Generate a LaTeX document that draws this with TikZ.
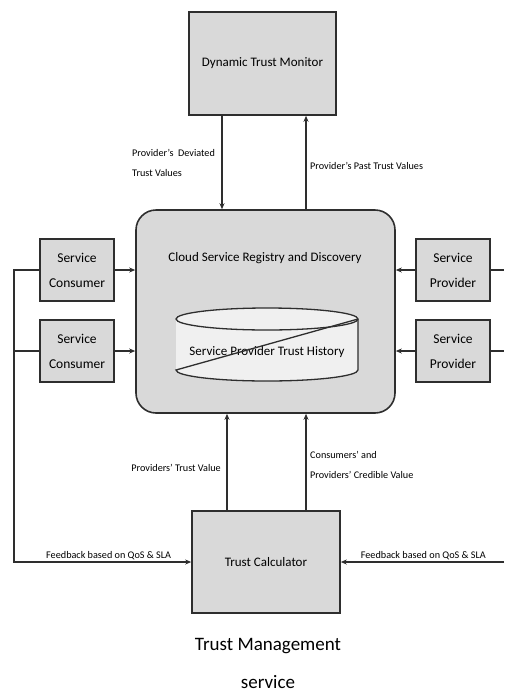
\documentclass[tikz,border=0pt]{standalone}
\usepackage{fontspec}
\setmainfont{Carlito}
\usetikzlibrary{arrows.meta}
\definecolor{boxgray}{HTML}{D9D9D9}
\definecolor{linegray}{HTML}{2E2E2E}
\definecolor{cylfill}{HTML}{F0F0F0}

\begin{document}
\begin{tikzpicture}[x=1pt,y=-1pt,
    box/.style={draw=linegray,line width=1.6pt,fill=boxgray,align=center,inner sep=0pt},
    small/.style={font=\fontsize{10.2}{20}\selectfont,align=left,inner sep=1pt},
    arr/.style={line width=1.3pt,draw=linegray,-{Stealth[length=6pt,width=5pt]}},
    ln/.style={line width=1.3pt,draw=linegray}]
    \useasboundingbox (0,0) rectangle (504,694);
    \node[box,minimum width=147pt,minimum height=103pt,font=\fontsize{13}{15}\selectfont] (monitor) at (262.5,63.5) {Dynamic Trust Monitor};
    \node[box,rounded corners=20pt,minimum width=259pt,minimum height=203pt] (cloud) at (265.5,311.5) {};
    \node[font=\fontsize{13}{15}\selectfont] (registry) at (265,258) {Cloud Service Registry and Discovery};
    \node[box,minimum width=148pt,minimum height=102pt,font=\fontsize{13}{15}\selectfont] (calc) at (266,562) {Trust Calculator};
    % trust history store
    \fill[cylfill] (176,319) -- (176,370) arc[start angle=180,end angle=360,x radius=91pt,y radius=11pt] -- (358,319) -- cycle;
    \draw[ln,fill=cylfill] (267,319) ellipse (91pt and 11pt);
    \node[font=\fontsize{13}{15}\selectfont] (history) at (267,352) {Service Provider Trust History};
    \draw[ln] (358,319) -- (358,370) arc[start angle=360,end angle=180,x radius=91pt,y radius=11pt] -- (358,319);
    \foreach \i/\y in {1/270,2/351}{
        \node[box,minimum width=74pt,minimum height=62pt,font=\fontsize{13.5}{25}\selectfont] (cons\i) at (77,\y) {Service\\Consumer};
        \node[box,minimum width=74pt,minimum height=62pt,font=\fontsize{13.5}{25}\selectfont] (prov\i) at (453,\y) {Service\\Provider};
        \draw[arr] (cons\i.east) -- (cons\i.east -| cloud.west);
        \draw[arr] (prov\i.west) -- (prov\i.west -| cloud.east);
    }
    \coordinate (xa) at (222,0);
    \coordinate (xb) at (306,0);
    \coordinate (xc) at (227,0);
    \coordinate (busl) at (14,0);
    \coordinate (edge) at (504,0);
    \draw[arr] (monitor.south -| xa) -- (cloud.north -| xa);
    \draw[arr] (cloud.north -| xb) -- (monitor.south -| xb);
    \draw[arr] (calc.north -| xc) -- (cloud.south -| xc);
    \draw[arr] (calc.north -| xb) -- (cloud.south -| xb);
    \draw[arr] (cons1.west) -| (busl |- calc.west) -- (calc.west);
    \draw[ln] (cons2.west) -- (cons2.west -| busl);
    \draw[ln] (prov1.east) -- (prov1.east -| edge);
    \draw[ln] (prov2.east) -- (prov2.east -| edge);
    \draw[arr] (calc.east -| edge) -- (calc.east);
    \node[small,anchor=west] (dev) at (131,163) {Provider's\ \ Deviated\\Trust Values};
    \node[small,anchor=west] (past) at (309,166) {Provider's Past Trust Values};
    \node[small,anchor=east] (ptv) at (222,468) {Providers' Trust Value};
    \node[small,anchor=west] (cred) at (309,465) {Consumers' and\\Providers' Credible Value};
    \node[small,anchor=south west] (fbl) at (45,561) {Feedback based on QoS \& SLA};
    \node[small,anchor=south east] (fbr) at (487,561) {Feedback based on QoS \& SLA};
    \node[font=\fontsize{19}{38}\selectfont,align=center] (tms) at (268,663) {Trust Management\\service};
\end{tikzpicture}
\end{document}
